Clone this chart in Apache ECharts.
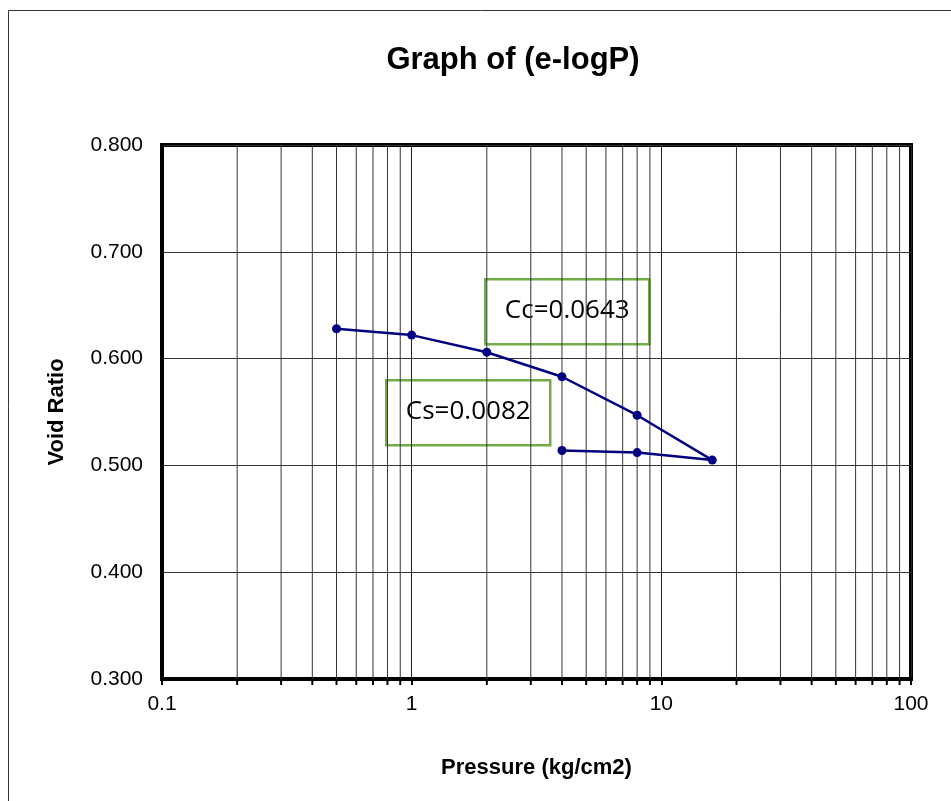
<!DOCTYPE html>
<html>
<head>
<meta charset="utf-8">
<title>Graph of (e-logP)</title>
<script src="https://cdn.jsdelivr.net/npm/echarts@6/dist/echarts.min.js"></script>
<style>
  html, body { margin: 0; padding: 0; background: #fff; }
  #main { width: 951px; height: 801px; }
</style>
</head>
<body>
<div id="main"></div>
<script>
// pressure (kg/cm2) and void ratio, in test order (loading then unloading)
var pressure = [0.5, 1, 2, 4, 8, 16, 8, 4];
var voidRatio = [0.628, 0.622, 0.606, 0.583, 0.547, 0.505, 0.512, 0.514];

// minor log grid positions (2..9 in each decade)
var minorTicks = [0.2, 0.3, 0.4, 0.5, 0.6, 0.7, 0.8, 0.9,
                  2, 3, 4, 5, 6, 7, 8, 9,
                  20, 30, 40, 50, 60, 70, 80, 90];

var annotations = ["Cc=0.0643", "Cs=0.0082"];

var font = "Liberation Sans, Arial, sans-serif";

var chartDom = document.getElementById("main");
var myChart = echarts.init(chartDom);

var option = {
  backgroundColor: "#fff",
  animation: false,
  title: {
    text: "Graph of (e-logP)",
    left: 508,
    top: 40,
    textAlign: "center",
    textStyle: {
      fontFamily: font,
      fontSize: 31,
      fontWeight: "bold",
      color: "#000",
    },
  },
  grid: {
    left: 162,
    top: 145,
    right: 40,
    bottom: 122,
    show: true,
    borderColor: "#000",
    borderWidth: 4,
    backgroundColor: "transparent",
  },
  xAxis: {
    type: "log",
    logBase: 10,
    min: 0.1,
    max: 100,
    name: "Pressure (kg/cm2)",
    nameLocation: "middle",
    nameGap: 78,
    nameTextStyle: {
      fontFamily: font,
      fontSize: 22,
      fontWeight: "bold",
      color: "#000",
    },
    axisLine: { lineStyle: { color: "#000", width: 4 } },
    axisTick: { show: true, length: 6, lineStyle: { color: "#000", width: 2 } },
    axisLabel: {
      margin: 15,
      fontFamily: font,
      fontSize: 21,
      color: "#000",
      formatter: function (v) {
        return String(+v.toPrecision(3));
      },
    },
    splitLine: { show: true, lineStyle: { color: "#222", width: 1 } },
  },
  yAxis: {
    type: "value",
    min: 0.3,
    max: 0.8,
    interval: 0.1,
    name: "Void Ratio",
    nameLocation: "middle",
    nameGap: 94,
    nameTextStyle: {
      fontFamily: font,
      fontSize: 22,
      fontWeight: "bold",
      color: "#000",
    },
    axisLine: { show: true, lineStyle: { color: "#000", width: 4 } },
    axisTick: { show: false },
    axisLabel: {
      margin: 19,
      fontFamily: font,
      fontSize: 21,
      color: "#000",
      formatter: function (v) {
        return v.toFixed(3);
      },
    },
    splitLine: { show: true, lineStyle: { color: "#333", width: 1 } },
  },
  graphic: [
    {
      type: "rect",
      silent: true,
      z: -10,
      shape: { x: 8.5, y: 10.5, width: 1200, height: 1200 },
      style: { fill: "none", stroke: "#333", lineWidth: 1 },
    },
    {
      type: "group",
      left: 484,
      top: 278,
      z: 100,
      children: [
        {
          type: "rect",
          shape: { x: 0, y: 0, width: 164, height: 65 },
          style: { fill: "#fff", stroke: "#70AD47", lineWidth: 2.5 },
        },
        {
          type: "text",
          x: 82,
          y: 31,
          style: {
            text: annotations[0],
            fontFamily: "Open Sans, sans-serif",
            fontSize: 26,
            fill: "#000",
            align: "center",
            verticalAlign: "middle",
          },
        },
      ],
    },
    {
      type: "group",
      left: 385,
      top: 379,
      z: 100,
      children: [
        {
          type: "rect",
          shape: { x: 0, y: 0, width: 164, height: 65 },
          style: { fill: "#fff", stroke: "#70AD47", lineWidth: 2.5 },
        },
        {
          type: "text",
          x: 82,
          y: 31,
          style: {
            text: annotations[1],
            fontFamily: "Open Sans, sans-serif",
            fontSize: 26,
            fill: "#000",
            align: "center",
            verticalAlign: "middle",
          },
        },
      ],
    },
  ],
  series: [
    {
      // minor vertical grid lines and their ticks below the axis
      type: "custom",
      silent: true,
      clip: false,
      z: 1,
      data: minorTicks.map(function (p) {
        return [p, 0.3];
      }),
      encode: { x: 0, y: 1 },
      renderItem: function (params, api) {
        var top = api.coord([api.value(0), 0.8]);
        var bottom = api.coord([api.value(0), 0.3]);
        return {
          type: "group",
          children: [
            {
              type: "line",
              shape: { x1: top[0], y1: top[1], x2: bottom[0], y2: bottom[1] },
              style: { stroke: "#333", lineWidth: 1 },
            },
            {
              type: "line",
              shape: { x1: bottom[0], y1: bottom[1], x2: bottom[0], y2: bottom[1] + 6 },
              style: { stroke: "#000", lineWidth: 2 },
            },
          ],
        };
      },
    },
    {
      name: "e-logP",
      type: "line",
      z: 5,
      data: pressure.map(function (p, i) {
        return [p, voidRatio[i]];
      }),
      symbol: "circle",
      symbolSize: 9,
      lineStyle: { color: "#000080", width: 2.5 },
      itemStyle: { color: "#000080" },
    },
  ],
};

myChart.setOption(option);
</script>
</body>
</html>
